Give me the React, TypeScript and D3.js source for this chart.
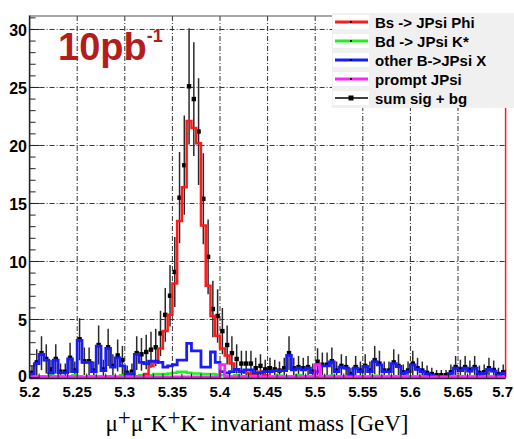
import React from "react";
import * as d3 from "d3";

// ---- data (100 bins, 5.2 - 5.7 GeV, width 0.005) ----
const xMin = 5.2;
const xMax = 5.7;
const binWidth = 0.005;

const bsJpsiPhi = [
  0, 0, 0, 0, 0, 0, 0, 0, 0, 0, 0, 0, 0, 0, 0, 0, 0, 0, 0, 0, 0, 0, 0, 0, 0.3,
  1.0, 1.3, 2.5, 4.0, 5.4, 8.1, 13.5, 16.4, 22.1, 21.5, 20.2, 13.1, 7.9, 5.3, 3.6,
  2.5, 1.9, 1.2, 0.7, 0.5, 0.4, 0.3, 0.3, 0.5, 0.2, 0, 0, 0, 0, 0, 0, 0, 0, 0, 0,
  0, 0, 0, 0, 0, 0, 0, 0, 0, 0, 0, 0, 0, 0, 0, 0, 0, 0, 0, 0, 0, 0, 0, 0, 0,
  0, 0, 0, 0, 0, 0, 0, 0, 0, 0, 0, 0, 0, 0, 0,
];

const bdJpsiKstar = [
  0, 0.05, 0.1, 0.1, 0.3, 0.1, 0.1, 0, 0.1, 0.2, 0.1, 0, 0.1, 0.1, 0.1, 0, 0.1, 0.1, 0.05, 0.2, 0.1, 0.3, 0.1, 0.2, 0.2,
  0.2, 0.3, 0.3, 0.3, 0.35, 0.4, 0.5, 0.5, 0.4, 0.35, 0.35, 0.3, 0.3, 0.3, 0.25,
  0.2, 0.15, 0.1, 0.2, 0.1, 0.1, 0.15, 0.1, 0.1, 0.1, 0.1, 0.1, 0.15, 0.1, 0.1, 0.1, 0.2, 0.1, 0.1, 0.1,
  0.1, 0.1, 0.1, 0.15, 0.1, 0.1, 0.1, 0.05, 0.1, 0.1, 0.1, 0.1, 0.15, 0.1, 0.1, 0.1, 0.1, 0.1, 0.1, 0.1,
  0.1, 0.1, 0.1, 0.05, 0.05, 0.05, 0.05, 0.05, 0.1, 0.1, 0.1, 0.1, 0.1, 0.1, 0.05, 0.1, 0.1, 0.1, 0.05, 0.1,
];

const otherBJpsiX = [
  0.3, 1.2, 2.0, 1.5, 0.4, 1.5, 0.4, 0.4, 1.6, 0.5, 3.2, 1.3, 1.3, 0.5, 2.7, 0.6, 2.5, 0.9, 1.7, 1.0, 0.3, 0.3, 2.0, 1.3, 1.2,
  1.4, 1.4, 1.3, 0.9, 1.0, 1.1, 1.5, 1.5, 2.95, 2.3, 2.3, 0.9, 0.9, 2.2, 1.3,
  0.5, 0.4, 0.5, 0.7, 0.5, 0.65, 0.65, 0.4, 0.4, 0.5, 0.5, 0.6, 0.6, 0.6, 1.9, 0.65, 0.8, 0.65, 0.8, 0.4,
  0.5, 1.0, 1.0, 1.35, 0.5, 0.9, 0.8, 0.2, 0.8, 0.5, 0.95, 0.5, 1.37, 1.08, 0.5, 0.5, 1.2, 0.95, 0.35, 0.5,
  1.08, 0.7, 0.5, 0.3, 0.2, 0.1, 0.1, 0.1, 0.35, 0.8, 0.6, 0.8, 0.55, 0.8, 0.3, 0.35, 0.7, 0.55, 0.2, 0.35,
];

const promptJpsi = [
  0.05, 0.05, 0.05, 0.05, 0.05, 0.05, 0.05, 0.05, 0.05, 0.05, 0.05, 0.05, 0.05, 0.05, 0.05, 0.05, 0.05, 0.05, 0.05, 0.05, 0.05, 0.05, 0.05, 0.05, 0.05,
  0.05, 0.05, 0.05, 0.05, 0.05, 0.05, 0.05, 0.05, 0.05, 0.05, 0.05, 0.05, 0.05, 0.05, 0.05,
  1.1, 0.05, 0.05, 0.05, 0.05, 0.05, 0.05, 0.05, 0.05, 0.05, 0.05, 0.05, 0.05, 0.05, 0.05, 0.05, 0.05, 0.05, 0.05, 0.05,
  1.1, 0.05, 0.05, 0.05, 0.05, 0.05, 0.05, 0.05, 0.05, 0.05, 0.05, 0.05, 0.05, 0.05, 0.05, 0.05, 0.05, 0.05, 0.05, 0.05,
  0.05, 0.05, 0.05, 0.05, 0.05, 0.05, 0.05, 0.05, 0.05, 0.05, 0.05, 0.05, 0.05, 0.05, 0.05, 0.05, 0.05, 0.05, 0.05, 0.05,
];

const sumSigBg = [
  0.4, 1.3, 2.1, 1.6, 0.7, 1.6, 0.5, 0.5, 1.7, 0.6, 3.3, 1.4, 1.4, 0.6, 2.8, 0.7, 2.6, 1.0, 1.9, 1.5, 0.4, 0.5, 2.1, 2.0, 2.2,
  2.4, 2.6, 3.8, 5.4, 7.05, 9.1, 15.5, 18.3, 25.1, 24.0, 21.2, 15.4, 10.4, 5.9, 5.3,
  4.0, 2.8, 2.1, 1.6, 1.2, 1.2, 1.2, 0.8, 1.0, 0.7, 0.8, 0.7, 0.6, 0.8, 2.1, 0.8, 0.9, 0.8, 0.9, 0.5,
  1.36, 1.1, 1.1, 1.4, 0.6, 1.0, 0.9, 0.3, 0.9, 0.6, 1.0, 0.6, 1.5, 1.2, 0.6, 0.6, 1.3, 1.0, 0.45, 0.6,
  1.2, 0.8, 0.6, 0.4, 0.3, 0.2, 0.2, 0.2, 0.45, 0.9, 0.7, 0.9, 0.65, 0.9, 0.4, 0.45, 0.8, 0.65, 0.3, 0.45,
];

const xTicks = [5.2, 5.25, 5.3, 5.35, 5.4, 5.45, 5.5, 5.55, 5.6, 5.65, 5.7];
const yTicks = [0, 5, 10, 15, 20, 25, 30];

const legendItems = [
  { label: "Bs -> JPsi Phi", color: "#ff1a1a" },
  { label: "Bd -> JPsi K*", color: "#22ee22" },
  { label: "other B->JPsi X", color: "#1a1aff" },
  { label: "prompt JPsi", color: "#ff22ff" },
  { label: "sum sig + bg", color: "#000000" },
];

const W = 514;
const H = 439;

export default function App() {
  const x = d3.scaleLinear().domain([xMin, xMax]).range([29.6, 505.6]);
  const y = d3.scaleLinear().domain([0, 31.16]).range([377.5, 16]);
  const left = x(xMin);
  const right = x(xMax);
  const top = y(31.16);
  const bottom = y(0);

  const stepPath = (vals: number[]) => {
    let d = `M${left},${bottom}`;
    vals.forEach((v, i) => {
      const lo = x(xMin + i * binWidth);
      const hi = x(xMin + (i + 1) * binWidth);
      d += `L${lo},${y(v)}L${hi},${y(v)}`;
    });
    d += `L${right},${bottom}`;
    return d;
  };

  const minorY = d3.range(0, 31.5, 1);
  const minorX = d3.range(0, 51).map((k) => xMin + k * 0.01);
  const font = "'Liberation Sans', Arial, Helvetica, sans-serif";
  const gridDash = "5,2,1,2";

  return (
    <svg
      width={W}
      height={H}
      style={{ position: "absolute", left: 0, top: 0, background: "#fff" }}
    >
      <defs>
        <clipPath id="plot">
          <rect x={left} y={top} width={right - left} height={bottom - top + 2} />
        </clipPath>
      </defs>
      <rect x={0} y={0} width={W} height={H} fill="#fff" />

      {/* grid */}
      {xTicks.slice(1, -1).map((t) => (
        <line key={"gx" + t} x1={x(t)} x2={x(t)} y1={top} y2={bottom}
          stroke="#333" strokeWidth={1} strokeDasharray={gridDash} />
      ))}
      {yTicks.slice(1).map((t) => (
        <line key={"gy" + t} x1={left} x2={right} y1={y(t)} y2={y(t)}
          stroke="#333" strokeWidth={1} strokeDasharray={gridDash} />
      ))}

      <g clipPath="url(#plot)">
        {/* data error bars and points */}
        {sumSigBg.map((v, i) => {
          const cx = x(xMin + (i + 0.5) * binWidth);
          const e = Math.sqrt(v);
          return (
            <g key={"d" + i}>
              <line x1={cx} x2={cx} y1={y(Math.max(0, v - e))} y2={y(v + e)}
                stroke="#2a2a2a" strokeWidth={1.5} />
              <rect x={cx - 2.2} y={y(v) - 2.2} width={4.4} height={4.4} fill="#000" />
            </g>
          );
        })}
        <path d={stepPath(bdJpsiKstar)} fill="none" stroke="#22ee22" strokeWidth={2.5} />
        <path d={stepPath(bsJpsiPhi)} fill="none" stroke="#ff1a1a" strokeWidth={2.5} />
        <path d={stepPath(otherBJpsiX)} fill="none" stroke="#1a1aff" strokeWidth={2.8} />
        <path d={stepPath(promptJpsi)} fill="none" stroke="#ff22ff" strokeWidth={2.8} />
      </g>

      {/* frame */}
      <line x1={left} x2={right} y1={top} y2={top} stroke="#555" strokeWidth={1.2} />
      <line x1={right} x2={right} y1={top} y2={bottom} stroke="#ff1a1a" strokeWidth={1.5} />
      <line x1={left} x2={left} y1={top - 0.5} y2={bottom + 1} stroke="#222" strokeWidth={1.6} />
      <line x1={left} x2={right} y1={bottom + 1} y2={bottom + 1} stroke="#222" strokeWidth={1.6} />

      {/* ticks */}
      {minorY.map((t) => (
        <line key={"ty" + t} x1={left} x2={left + (t % 5 === 0 ? 10 : 6)} y1={y(t)} y2={y(t)}
          stroke="#222" strokeWidth={1} />
      ))}
      {minorX.map((t, k) => (
        <line key={"tx" + k} x1={x(t)} x2={x(t)} y1={bottom} y2={bottom - (k % 5 === 0 ? 8 : 4)}
          stroke="#222" strokeWidth={1} />
      ))}

      {/* y labels */}
      {yTicks.map((t) => (
        <text key={"ly" + t} x={27} y={y(t) + (t === 0 ? 4 : 7)} textAnchor="end"
          fontFamily={font} fontWeight="bold" fontSize={16} fill="#000">
          {t}
        </text>
      ))}
      {/* x labels */}
      {xTicks.map((t, k) => {
        const last = k === xTicks.length - 1;
        return (
          <text key={"lx" + t} x={last ? 513 : x(t)} y={397}
            textAnchor={last ? "end" : "middle"}
            fontFamily={font} fontWeight="bold" fontSize={15} fill="#000">
            {String(t)}
          </text>
        );
      })}

      {/* x title */}
      <text x={257} y={431} textAnchor="middle"
        fontFamily="'Liberation Serif', 'Times New Roman', serif" fontSize={23} fill="#000">
        μ<tspan dy={-6}>+</tspan><tspan dy={6}>μ</tspan><tspan dy={-6}>-</tspan>
        <tspan dy={6}>K</tspan><tspan dy={-6}>+</tspan><tspan dy={6}>K</tspan>
        <tspan dy={-6}>-</tspan><tspan dy={6}> invariant mass [GeV]</tspan>
      </text>

      {/* luminosity label */}
      <text x={58} y={60} fontFamily={font} fontWeight="bold" fontSize={38} fill="#b31d1d">
        10pb<tspan dy={-18} fontSize={18}>-1</tspan>
      </text>

      {/* legend */}
      <rect x={332} y={13} width={182} height={95} fill="#f0f0f0" />
      {legendItems.map((it, k) => {
        const cy = 22 + k * 19;
        return (
          <g key={"lg" + k}>
            <rect x={333} y={cy - 7} width={36} height={14} fill="#fff" />
            <line x1={335} x2={368} y1={cy} y2={cy} stroke={it.color}
              strokeWidth={k === 4 ? 1.5 : 3} />
            {k === 4 ? (
              <rect x={348.5} y={cy - 2.5} width={5} height={5} fill="#000" />
            ) : (
              <rect x={350} y={cy - 1} width={2} height={2} fill="#000" />
            )}
            <text x={375} y={cy + 5.5} fontFamily={font} fontWeight="bold" fontSize={15} fill="#000">
              {it.label}
            </text>
          </g>
        );
      })}
    </svg>
  );
}
